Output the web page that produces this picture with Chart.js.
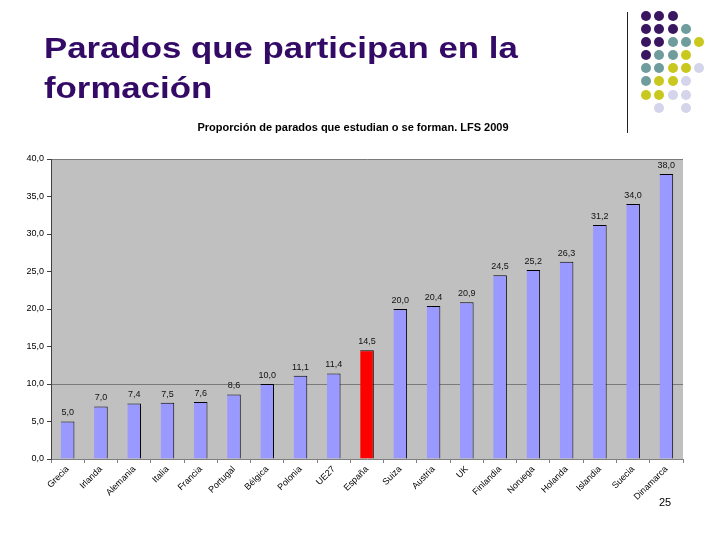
<!DOCTYPE html>
<html>
<head>
<meta charset="utf-8">
<script src="https://cdn.jsdelivr.net/npm/chart.js@4/dist/chart.umd.min.js"></script>
<style>
  body { margin: 0; background: #fff; }
  #wrap { position: relative; width: 720px; height: 540px; overflow: hidden; }
  #grafico { position: absolute; left: 0; top: 0; }
  #titulo {
    position: absolute; left: 44px; top: 28px;
    font-family: "Liberation Sans", Arial, sans-serif; font-weight: bold;
    font-size: 30px; line-height: 40px; color: #330a66;
    transform: scaleX(1.16); transform-origin: left top; white-space: nowrap;
  }
  #linea { position: absolute; left: 627px; top: 12px; width: 1px; height: 121px; background: #222; }
  #puntos { position: absolute; left: 641px; top: 10.5px; display: grid;
    grid-template-columns: repeat(5, 13.3px); grid-auto-rows: 13.2px; }
  #puntos span { width: 10px; height: 10px; border-radius: 50%; }
  #pagina { position: absolute; left: 659px; top: 496px; font-family: "Liberation Sans", Arial, sans-serif; font-size: 11px; color: #000; }
</style>
</head>
<body>
<div id="wrap">
  <canvas id="grafico" width="720" height="540"></canvas>
  <div id="titulo">Parados que participan en la<br>formación</div>
  <div id="linea"></div>
  <div id="puntos"></div>
  <div id="pagina">25</div>
</div>
<script>
// datos
var paises = ['Grecia', 'Irlanda', 'Alemania', 'Italia', 'Francia', 'Portugal', 'Bélgica', 'Polonia', 'UE27', 'España',
              'Suiza', 'Austria', 'UK', 'Finlandia', 'Noruega', 'Holanda', 'Islandia', 'Suecia', 'Dinamarca'];
var valores = [5.0, 7.0, 7.4, 7.5, 7.6, 8.6, 10.0, 11.1, 11.4, 14.5, 20.0, 20.4, 20.9, 24.5, 25.2, 26.3, 31.2, 34.0, 38.0];
var destacado = 'España';
var ticksY = [0, 5, 10, 15, 20, 25, 30, 35, 40];

// decoracion de la plantilla (puntos arriba a la derecha)
var patron = ['PPP__', 'PPPT_', 'PPTTY', 'PTTY_', 'TTYYL', 'TYYL_', 'YYLL_', '_L_L_'];
var coloresPunto = { P: '#3a1660', T: '#6f9c9c', Y: '#c8c81e', L: '#d4d4ea', _: 'transparent' };
var cont = document.getElementById('puntos');
patron.forEach(function (fila) {
    fila.split('').forEach(function (c) {
        var s = document.createElement('span');
        s.style.background = coloresPunto[c];
        cont.appendChild(s);
    });
});

function fmt(v) {
    return Number(v).toFixed(1).replace('.', ',');
}

var fondoGris = {
    id: 'fondoGris',
    beforeDraw: function (chart) {
        var a = chart.chartArea, ctx = chart.ctx;
        ctx.save();
        ctx.fillStyle = '#c0c0c0';
        ctx.fillRect(a.left, a.top, a.right - a.left, a.bottom - a.top);
        ctx.restore();
    }
};

var etiquetas = {
    id: 'etiquetas',
    afterDatasetsDraw: function (chart) {
        var ctx = chart.ctx;
        var meta = chart.getDatasetMeta(0);
        ctx.save();
        ctx.font = '9px "Liberation Sans", Arial, sans-serif';
        ctx.fillStyle = '#111';
        ctx.textAlign = 'center';
        ctx.textBaseline = 'bottom';
        meta.data.forEach(function (bar, i) {
            ctx.fillText(fmt(valores[i]), bar.x, bar.y - 4);
        });
        ctx.restore();
    }
};

var fuente = '"Liberation Sans", Arial, sans-serif';

new Chart(document.getElementById('grafico'), {
    type: 'bar',
    data: {
        labels: paises,
        datasets: [{
            data: valores,
            backgroundColor: paises.map(function (p) { return p === destacado ? '#ff0000' : '#9999ff'; }),
            borderColor: '#000',
            borderWidth: { top: 1, right: 1, left: 0, bottom: 0 },
            borderSkipped: false,
            barPercentage: 0.41,
            categoryPercentage: 1.0
        }]
    },
    options: {
        responsive: false,
        animation: false,
        layout: { padding: { left: 23, right: 37, top: 0, bottom: 0 } },
        plugins: {
            legend: { display: false },
            tooltip: { enabled: false },
            title: {
                display: true,
                text: 'Proporción de parados que estudian o se forman. LFS 2009',
                color: '#000',
                font: { family: fuente, size: 11, weight: 'bold' },
                padding: { top: 121, bottom: 24.8 }
            }
        },
        scales: {
            x: {
                afterFit: function (s) { s.height = 81; },
                grid: { drawOnChartArea: false, drawTicks: true, tickLength: 4, color: '#808080' },
                border: { color: '#808080' },
                ticks: {
                    autoSkip: false, maxRotation: 45, minRotation: 45, padding: 1,
                    color: '#000', font: { family: fuente, size: 9 }
                }
            },
            y: {
                min: 0, max: 40,
                afterFit: function (s) { s.width = 28; },
                afterBuildTicks: function (s) { s.ticks = ticksY.map(function (v) { return { value: v }; }); },
                grid: {
                    color: function (c) { return (c.tick && (c.tick.value === 10 || c.tick.value === 40)) ? '#7a7a7a' : 'rgba(0,0,0,0)'; },
                    tickColor: '#404040', tickLength: 4
                },
                border: { color: '#404040' },
                ticks: {
                    padding: 3, color: '#000', font: { family: fuente, size: 9 },
                    callback: function (v) { return fmt(v); }
                }
            }
        }
    },
    plugins: [fondoGris, etiquetas]
});
</script>
</body>
</html>
